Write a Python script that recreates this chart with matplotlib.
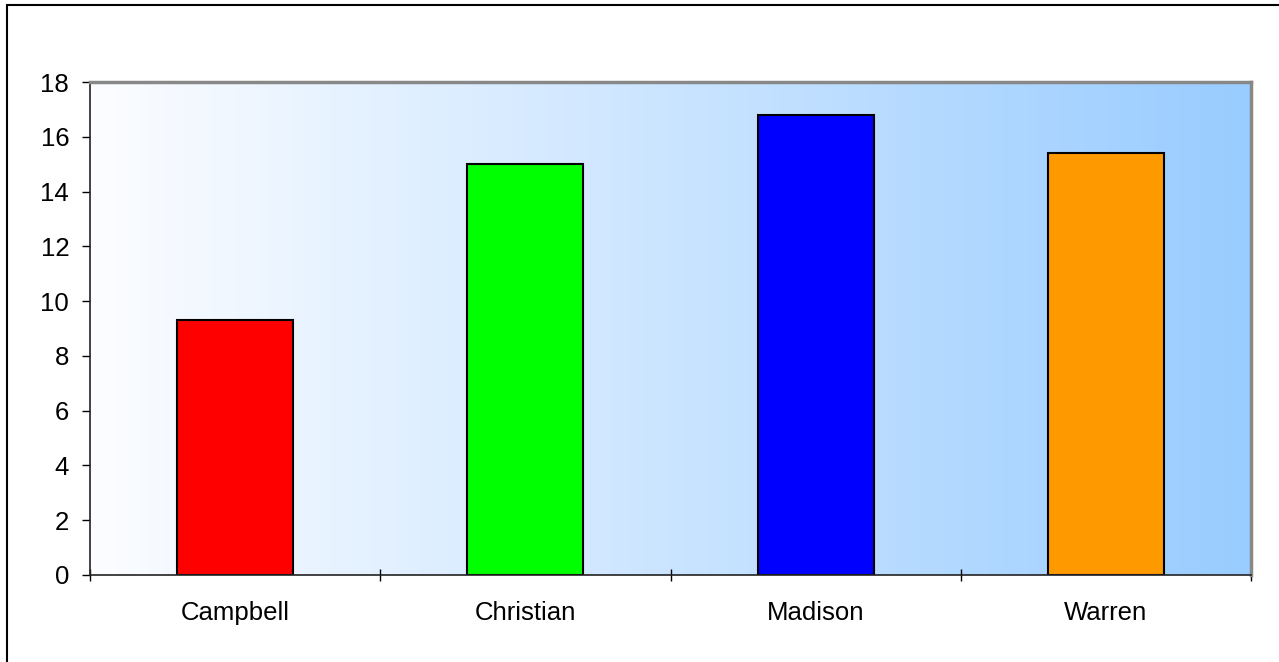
import numpy as np
import matplotlib.pyplot as plt
from matplotlib.colors import LinearSegmentedColormap
from matplotlib.patches import Rectangle

counties = ["Campbell", "Christian", "Madison", "Warren"]
values = [9.3, 15.0, 16.8, 15.4]
bar_colors = ["#FF0000", "#00FF00", "#0000FF", "#FF9900"]
y_ticks = [0, 2, 4, 6, 8, 10, 12, 14, 16, 18]

plt.rcParams['font.family'] = ['Liberation Sans', 'DejaVu Sans']

W, H = 1279, 662
fig = plt.figure(figsize=(W / 100, H / 100), dpi=100)
ax = fig.add_axes([90 / W, 1 - 575 / H, (1251 - 90) / W, (575 - 82) / H])

# background gradient, white-ish on the left to light blue on the right
cmap = LinearSegmentedColormap.from_list("bg", ["#FCFDFF", "#99CCFF"])
grad = np.linspace(0, 1, 256).reshape(1, -1)
ax.imshow(grad, cmap=cmap, aspect="auto", extent=[0, 1, 0, 1],
          transform=ax.transAxes, zorder=0)

x = np.arange(len(counties))
ax.bar(x, values, width=0.4, color=bar_colors, edgecolor="black",
       linewidth=1.5, zorder=2)

ax.set_xlim(-0.5, len(counties) - 0.5)
ax.set_ylim(0, 18)
ax.set_yticks(y_ticks)
ax.set_xticks(x)
ax.set_xticklabels(counties)
ax.set_xticks(np.arange(len(counties) + 1) - 0.5, minor=True)
ax.tick_params(axis="x", which="major", length=0, pad=19, labelsize=18.5)
ax.tick_params(axis="x", which="minor", direction="inout", length=8, width=1)
ax.tick_params(axis="y", direction="out", length=6, width=1, labelsize=18.5, pad=9)

for side in ["left", "bottom"]:
    ax.spines[side].set_color("#222222")
    ax.spines[side].set_linewidth(1.2)
for side in ["top", "right"]:
    ax.spines[side].set_color("#888888")
    ax.spines[side].set_linewidth(2.5)

# outer chart border
fig.patches.append(Rectangle((7 / W, -0.05), 1.2, 1 - 5 / H + 0.05,
                             transform=fig.transFigure, fill=False,
                             edgecolor="black", linewidth=1.5))

fig.savefig("out.png", dpi=100)
